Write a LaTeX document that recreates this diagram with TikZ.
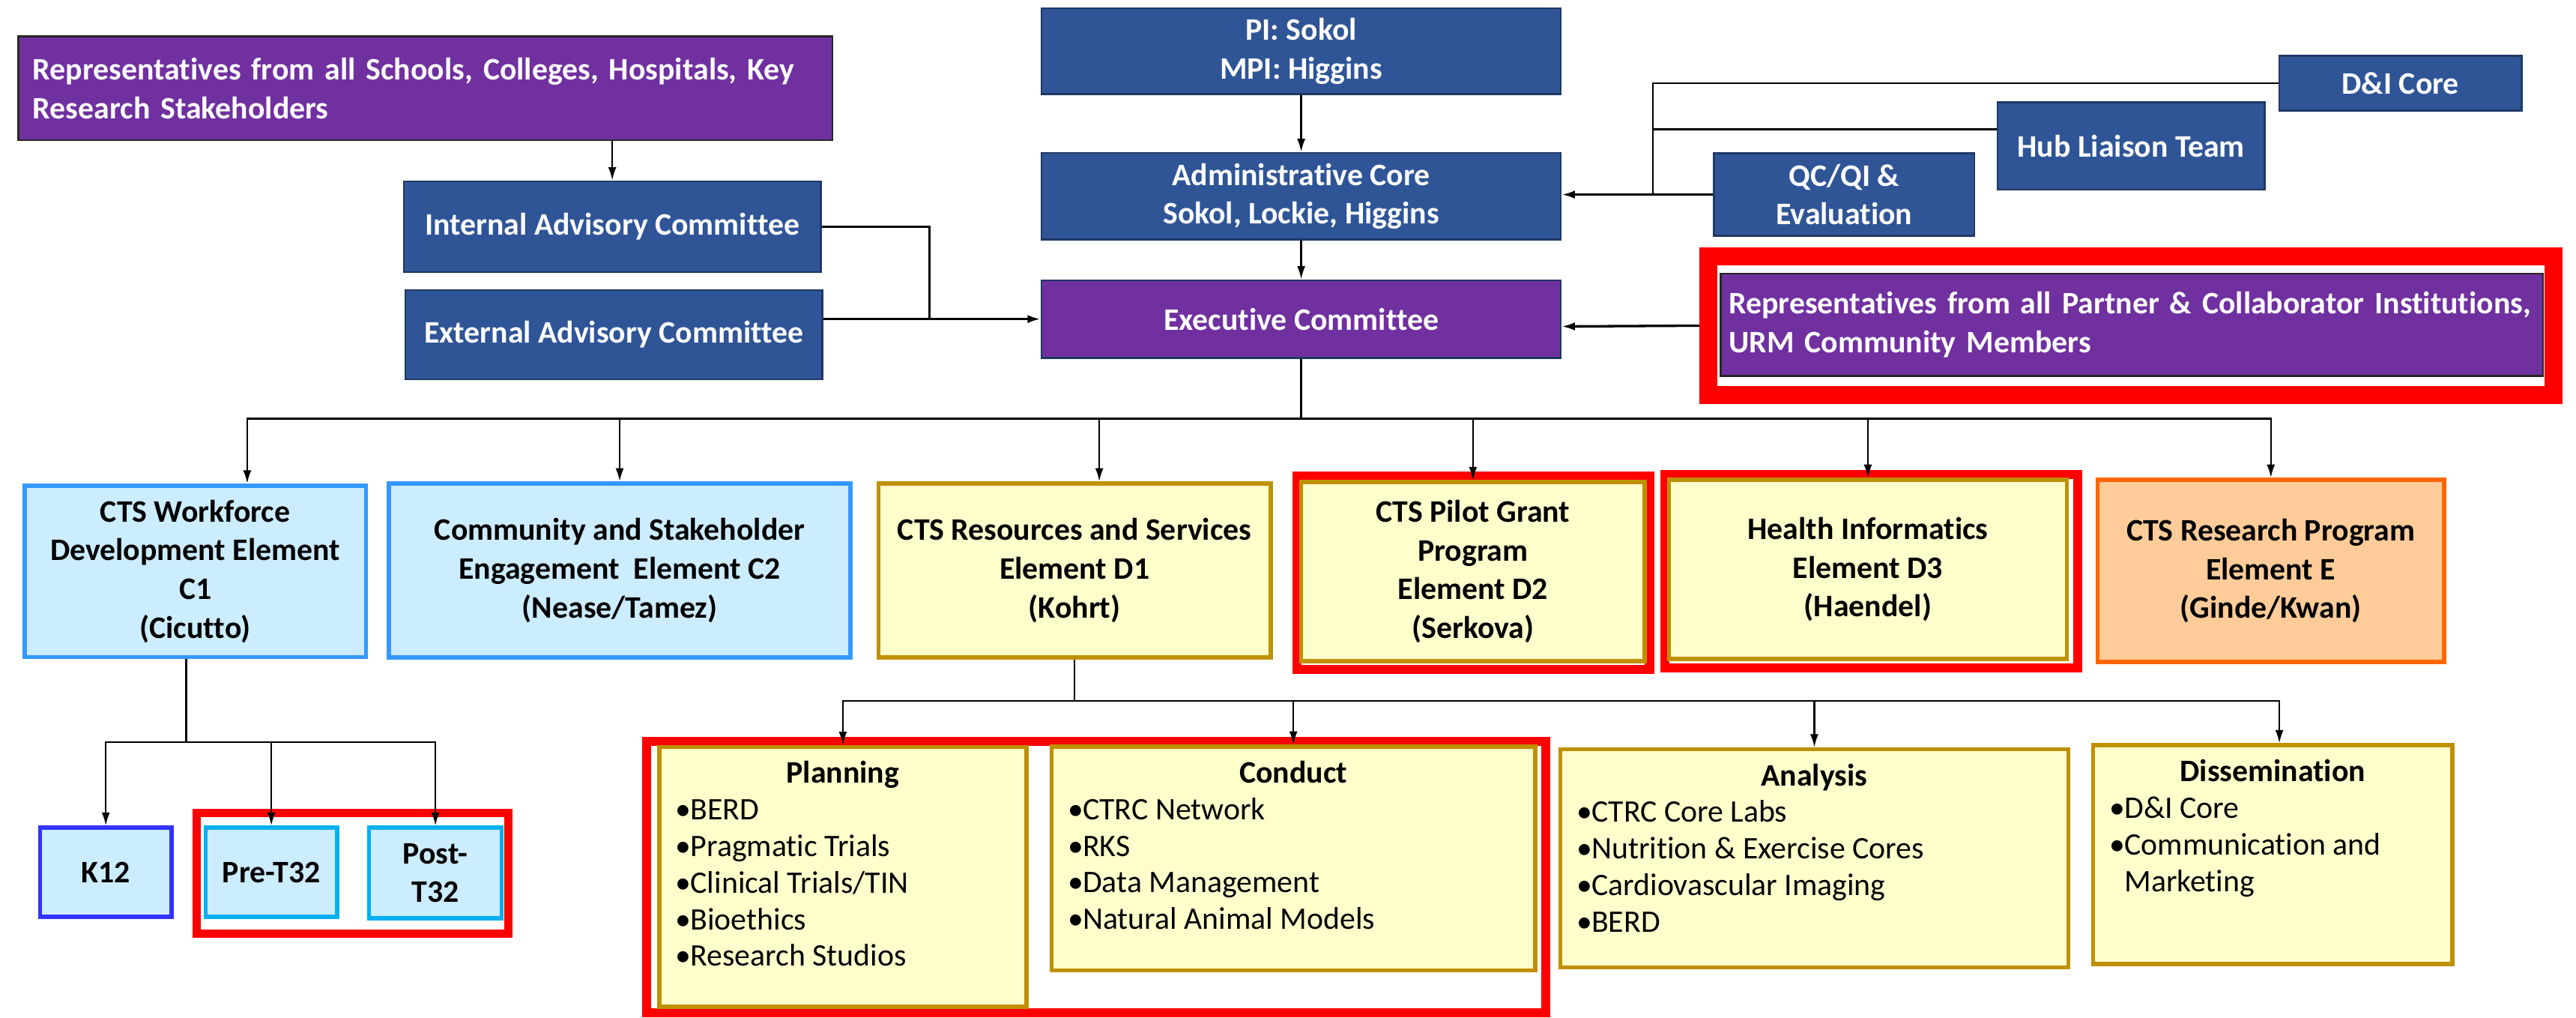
\documentclass[tikz,border=0pt]{standalone}
\usepackage{fontspec}
\setmainfont{Carlito}[Ligatures=NoCommon]
\usetikzlibrary{arrows.meta}
\definecolor{dkblue}{HTML}{2F5597}
\definecolor{dkborder}{HTML}{203864}
\definecolor{purp}{HTML}{7030A0}
\definecolor{ltblue}{HTML}{CCECFF}
\definecolor{ltborder}{HTML}{3399FF}
\definecolor{yel}{HTML}{FFFFCC}
\definecolor{gold}{HTML}{BF9000}
\definecolor{peach}{HTML}{FFCC99}
\definecolor{orng}{HTML}{FF6600}
\definecolor{kblue}{HTML}{3333FF}
\definecolor{cyanb}{HTML}{00B0F0}
\newcommand\mybul{\makebox[9pt][l]{•}}
\newcommand\mylist[4]{\parbox[c][#2pt][t]{#1pt}{\fontsize{19}{22.2}\selectfont{\centering\bfseries\rule{0pt}{22pt}#3\par}\leftskip=10pt #4}}
\begin{document}
\begin{tikzpicture}[x=1pt,y=-1pt,
  box/.style={inner sep=0pt},
  sz/.style 2 args={minimum width=#1pt, minimum height=#2pt},
  txt/.style={font=\fontsize{19}{23.5}\selectfont\bfseries, align=center},
  dkbox/.style={box, txt, fill=dkblue, draw=dkborder, line width=1.2pt, text=white},
  ppbox/.style={box, txt, fill=purp, draw=black!85, line width=1.2pt, text=white},
  lbbox/.style={box, txt, fill=ltblue, draw=ltborder, line width=2.5pt},
  ylbox/.style={box, txt, fill=yel, draw=gold, line width=2.5pt},
  ylist/.style={inner sep=0pt, fill=yel, draw=gold, line width=2.5pt},
  redframe/.style={draw=red, inner sep=0pt, line width=5.5pt},
  conn/.style={line width=1.1pt},
  arr/.style={conn, -{Latex[length=8pt,width=5pt]}}]
\useasboundingbox (0,0) rectangle (1563,617);

% red highlight frames
\node[redframe, line width=11pt, sz={513}{84}] (redP) at (1293,197.5) {};
\node[redframe, sz={214.1}{117.2}] (redD2) at (893.8,347.35) {};
\node[redframe, sz={250.5}{117.3}] (redD3) at (1135.6,346.4) {};
\node[redframe, line width=5pt, sz={189}{73.1}] (redT) at (214,529.55) {};
\node[redframe, sz={545.4}{164.7}] (redB) at (665.05,531.9) {};

% top part
\node[ppbox, align=left, text width=476pt, inner xsep=9pt, minimum height=63pt] (rep) at (258,53.5)
  {Representatives from all Schools, Colleges, Hospitals, Key\\Research Stakeholders};
\node[dkbox, sz={253}{55}] (iac) at (371.5,137.5) {Internal Advisory Committee};
\node[dkbox, sz={253}{54}] (eac) at (372.5,203) {External Advisory Committee};
\node[dkbox, sz={315}{52}] (pi) at (789.5,31) {PI: Sokol\\MPI: Higgins};
\node[dkbox, sz={315}{52.5}] (adm) at (789.5,119) {Administrative Core\\Sokol, Lockie, Higgins};
\node[ppbox, draw=dkborder, sz={315}{47}] (exec) at (789.5,193.5) {Executive Committee};
\node[dkbox, sz={147}{33}] (di) at (1456.5,50.5) {D\&I Core};
\node[dkbox, sz={162}{53}] (hub) at (1293,88.5) {Hub Liaison Team};
\node[dkbox, sz={158}{50}] (qc) at (1119,118) {QC/QI \&\\Evaluation};
\node[ppbox, align=left, text width=489pt, inner xsep=5pt, minimum height=62pt] (partner) at (1293.5,197)
  {\mbox{Representatives from all Partner \& Collaborator Institutions,}\\URM Community Members};

% elements
\node[lbbox, sz={207}{104}] (c1) at (118.5,346.5) {CTS Workforce\\Development Element\\C1\\(Cicutto)};
\node[lbbox, sz={280}{105.6}] (c2) at (376,346) {Community and Stakeholder\\Engagement~ Element C2\\(Nease/Tamez)};
\node[ylbox, sz={238}{105.6}] (d1) at (652,346) {CTS Resources and Services\\Element D1\\(Kohrt)};
\node[ylbox, sz={208.5}{108.6}] (d2) at (893.75,346.7) {CTS Pilot Grant\\Program\\Element D2\\(Serkova)};
\node[ylbox, sz={241.3}{108.6}] (d3) at (1133.35,345.3) {Health Informatics\\Element D3\\(Haendel)};
\node[box, txt, fill=peach, draw=orng, line width=2.5pt, sz={210.3}{110.5}] (e) at (1377.85,346.25) {CTS Research Program\\Element E\\(Ginde/Kwan)};

% workforce children
\node[box, txt, fill=ltblue, draw=kblue, line width=2.5pt, sz={79.6}{54}] (k12) at (64.2,529) {K12};
\node[box, txt, fill=ltblue, draw=cyanb, line width=2.5pt, sz={79.7}{54}] (pre) at (164.65,529) {Pre-T32};
\node[box, txt, fill=ltblue, draw=cyanb, line width=2.5pt, sz={80.4}{55}] (post) at (264.2,529.5) {Post-\\T32};

% resources children
\node[ylist] (plan) at (511.4,531.75) {\mylist{222.8}{157.5}{Planning}{\mybul BERD\par\mybul Pragmatic Trials\par\mybul Clinical Trials/TIN\par\mybul Bioethics\par\mybul Research Studios}};
\node[ylist] (cond) at (784.75,520.7) {\mylist{293.5}{135.8}{Conduct}{\mybul CTRC Network\par\mybul RKS\par\mybul Data Management\par\mybul Natural Animal Models}};
\node[ylist] (anal) at (1100.85,520.65) {\mylist{308.3}{132.3}{Analysis}{\mybul CTRC Core Labs\par\mybul Nutrition \& Exercise Cores\par\mybul Cardiovascular Imaging\par\mybul BERD}};
\node[ylist] (diss) at (1379,518.35) {\mylist{218}{132.7}{Dissemination}{\mybul D\&I Core\par\mybul Communication and\\\hspace*{9pt}Marketing}};

% connectors
\draw[arr] (iac.north |- rep.south) -- (iac.north);
\coordinate (jA) at (564,193.5);
\draw[arr, line width=1.5pt] (iac.east) -| (jA) -- (exec.west);
\draw[conn, line width=1.5pt] (eac.east |- jA) -- (jA);
\draw[arr] (pi.south) -- (adm.north);
\draw[arr] (adm.south) -- (exec.north);
\draw[arr, line width=1.5pt] (qc.west) -- (qc.west -| adm.east);
\coordinate (jB) at (1003,118);
\draw[conn] (di.west) -| (jB);
\coordinate (hubw) at ([yshift=10pt]hub.west);
\draw[conn] (hubw) -- (hubw -| jB);
\draw[arr, line width=1.5pt] (redP.west) -- ([yshift=-4.5pt]exec.east);

\coordinate (b1) at (789.5,254);
\draw[conn] (exec.south) -- (b1);
\draw[arr] (b1) -| ([xshift=31.5pt]c1.north);
\draw[arr] (b1) -| (c2.north);
\draw[arr] (b1) -| ([xshift=15pt]d1.north);
\draw[arr] (b1) -| (d2.north);
\draw[arr] (b1) -| (d3.north);
\draw[arr] (b1) -| (e.north);

\coordinate (b2) at (113,450);
\draw[conn] ([xshift=-5.5pt]c1.south) -- (b2);
\draw[arr] (b2) -| (k12.north);
\draw[arr] (b2) -| (pre.north);
\draw[arr] (b2) -| (post.north);

\coordinate (b3) at (652,425);
\draw[conn] (d1.south) -- (b3);
\draw[arr] (b3) -| (plan.north);
\draw[arr] (b3) -| (cond.north);
\draw[arr] (b3) -| (anal.north);
\draw[arr] (b3) -| ([xshift=4pt]diss.north);
\end{tikzpicture}
\end{document}
